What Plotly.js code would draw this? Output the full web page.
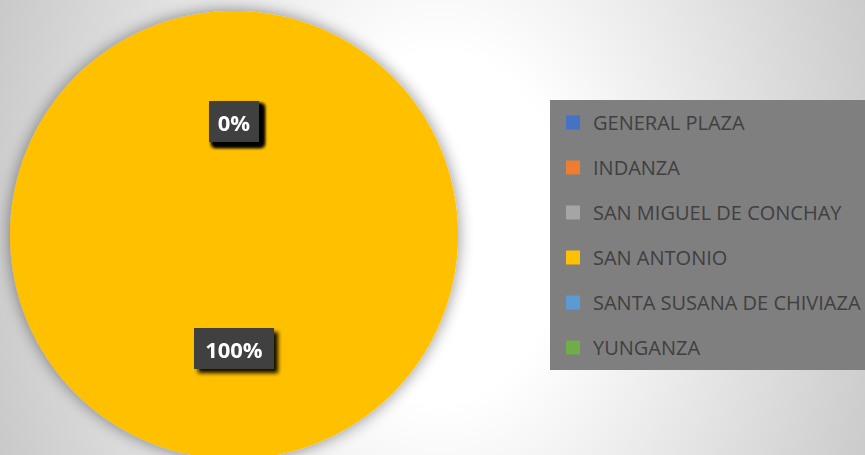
<!DOCTYPE html>
<html>
<head>
<meta charset="utf-8">
<script src="https://cdn.plot.ly/plotly-3.0.1.min.js"></script>
<style>
html, body { margin:0; padding:0; width:865px; height:455px; overflow:hidden; }
body { background: radial-gradient(ellipse 500px 700px at 440px 227px, #ffffff 25%, #c4c4c4 100%); }
#chart { width:865px; height:470px; }
.annotation { filter: url(#lblshadow); }
.pielayer .trace { filter: url(#pieshadow); }
</style>
</head>
<body>
<svg width="0" height="0" style="position:absolute">
  <defs>
    <filter id="lblshadow" x="-30%" y="-30%" width="170%" height="170%">
      <feGaussianBlur in="SourceAlpha" stdDeviation="2"/>
      <feOffset dx="4" dy="4" result="o"/>
      <feComponentTransfer><feFuncA type="linear" slope="0.95"/></feComponentTransfer>
      <feMerge><feMergeNode/><feMergeNode in="SourceGraphic"/></feMerge>
    </filter>
    <filter id="pieshadow" x="-10%" y="-10%" width="120%" height="120%">
      <feGaussianBlur in="SourceAlpha" stdDeviation="8"/>
      <feOffset dx="0" dy="0"/>
      <feComponentTransfer><feFuncA type="linear" slope="0.45"/></feComponentTransfer>
      <feMerge><feMergeNode/><feMergeNode in="SourceGraphic"/></feMerge>
    </filter>
  </defs>
</svg>
<div id="chart"></div>
<script>
var categories = ["GENERAL PLAZA", "INDANZA", "SAN MIGUEL DE CONCHAY", "SAN ANTONIO", "SANTA SUSANA DE CHIVIAZA", "YUNGANZA"];
var values = [0, 0, 0, 100, 0, 0];
var colors = ["#4472C4", "#ED7D31", "#A5A5A5", "#FFC000", "#5B9BD5", "#70AD47"];

var W = 865, H = 470;
var pieLeft = 10, pieRight = 458;
var cx = (pieLeft + pieRight) / 2, r = (pieRight - pieLeft) / 2, cy = H / 2;

var traces = [{
  type: 'pie',
  labels: categories,
  values: values,
  marker: { colors: colors, line: { width: 0 } },
  sort: false,
  direction: 'clockwise',
  rotation: 0,
  textinfo: 'none',
  hoverinfo: 'skip',
  showlegend: false,
  domain: { x: [pieLeft / W, pieRight / W], y: [0, 1] }
}];

categories.forEach(function (c, i) {
  traces.push({
    type: 'scatter', mode: 'markers', x: [null], y: [null],
    name: c, legendgroup: 'g' + i,
    marker: { symbol: 'square', size: 14, color: colors[i] },
    hoverinfo: 'skip'
  });
});

var total = values.reduce(function (a, b) { return a + b; }, 0);
var annotations = [];
var cum = 0;
values.forEach(function (v, i) {
  var mid = (cum + v / 2) / total * 2 * Math.PI;
  cum += v;
  var px = cx + 0.505 * r * Math.sin(mid);
  var py = cy - 0.505 * r * Math.cos(mid);
  var txt = Math.round(100 * v / total) + '%';
  annotations.push({
    xref: 'paper', yref: 'paper', x: px / W, y: 1 - py / H,
    xanchor: 'center', yanchor: 'middle', showarrow: false,
    text: '<b>' + txt + '</b>',
    font: { family: 'Open Sans', size: 22, color: '#ffffff' },
    bgcolor: '#404040', borderpad: 0, borderwidth: 0,
    width: 20 + 15 * txt.length, height: 41
  });
});

var layout = {
  width: W, height: H,
  margin: { l: 0, r: 0, t: 0, b: 0, autoexpand: false },
  paper_bgcolor: 'rgba(0,0,0,0)',
  plot_bgcolor: 'rgba(0,0,0,0)',
  xaxis: { visible: false, domain: [0.99, 1] },
  yaxis: { visible: false, domain: [0.99, 1] },
  showlegend: true,
  legend: {
    x: 550 / W, y: 1 - 100 / H, xanchor: 'left', yanchor: 'top',
    bgcolor: '#7f7f7f', bordercolor: '#7f7f7f', borderwidth: 3,
    font: { family: 'Open Sans', size: 20, color: '#404040' },
    traceorder: 'grouped', tracegroupgap: 16,
    itemclick: false, itemdoubleclick: false
  },
  annotations: annotations
};

Plotly.newPlot('chart', traces, layout, { staticPlot: true, displayModeBar: false });
</script>
</body>
</html>
